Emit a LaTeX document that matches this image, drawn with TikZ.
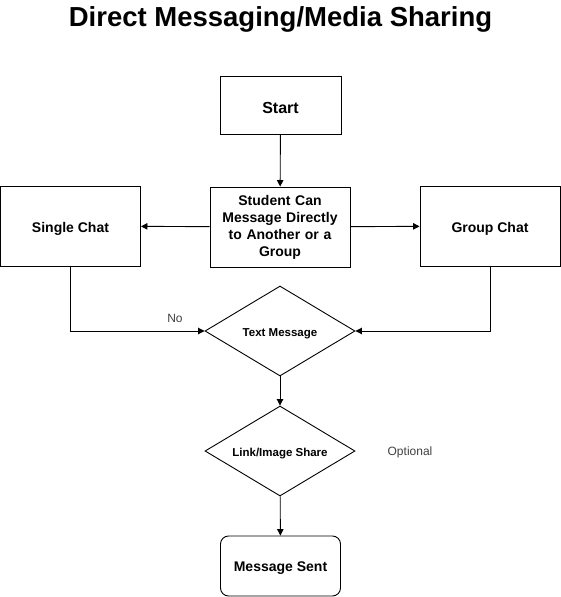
\documentclass[tikz,border=0pt]{standalone}
\usepackage{fontspec}
\setmainfont{Liberation Sans}
\usetikzlibrary{shapes.geometric,arrows.meta}
\newcommand{\dn}[1]{\raisebox{-2.5pt}[\height][\depth]{#1}}
\begin{document}
\begin{tikzpicture}[x=1pt,y=-1pt,
  box/.style={draw,line width=0.9pt,minimum width=140pt,minimum height=80pt,align=center,font=\bfseries\fontsize{14}{17}\selectfont,inner sep=2pt},
  dia/.style={draw,diamond,line width=0.9pt,minimum width=150pt,minimum height=90pt,aspect=1.667,inner sep=0pt,font=\bfseries\fontsize{11.5}{14}\selectfont},
  arr/.style={-{Triangle[length=6.5pt,width=6.5pt]},line width=0.9pt},
  lbl/.style={font=\fontsize{12}{14}\selectfont,text=black!75}]
\useasboundingbox (0,0) rectangle (561,597);
\node[font=\bfseries\fontsize{27.5}{32}\selectfont] (title) at (280.5,19) {Direct Messaging/Media Sharing};
\node[box,minimum width=121pt,minimum height=58pt,font=\bfseries\fontsize{16}{19}\selectfont] (start) at (280.5,105) {\dn{Start}};
\node[box,text width=134pt] (student) at (280,227) {Student Can\\Message Directly\\to Another or a\\Group};
\node[box] (single) at (70.5,226) {\dn{Single Chat}};
\node[box] (group) at (490,226) {\dn{Group Chat}};
\node[dia] (text) at (280,331) {\dn{Text Message}};
\node[dia] (link) at (280,451) {\dn{Link/Image Share}};
\node[box,rounded corners=8pt,minimum width=120pt,minimum height=60pt] (sent) at (280.5,566) {\dn{Message Sent}};
\node[lbl] (no) at (175,318) {No};
\node[lbl] (opt) at (410,452) {Optional};
\draw[arr] (start) -- (student);
\draw[arr] (student) -- (single);
\draw[arr] (student) -- (group);
\draw[arr] (single.south) |- (text.west);
\draw[arr] (group.south) |- (text.east);
\draw[arr] (text) -- (link);
\draw[arr] (link) -- (sent);
\end{tikzpicture}
\end{document}
